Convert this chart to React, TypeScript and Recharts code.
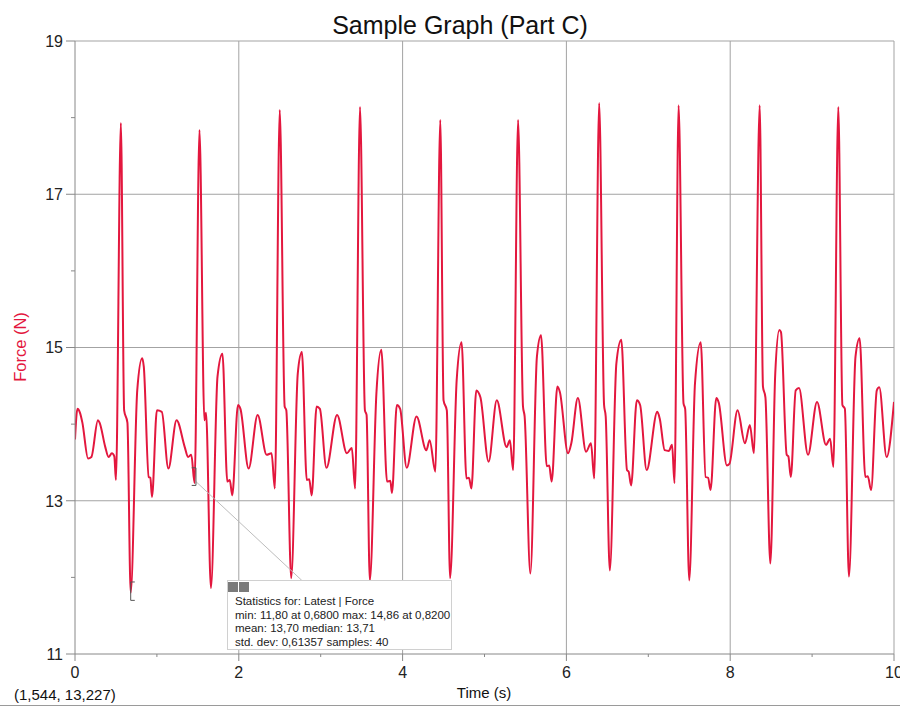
import React from 'react';
import { LineChart, Line, XAxis, YAxis, ReferenceLine } from 'recharts';

const times = [
  0.0, 0.03, 0.06, 0.09, 0.16, 0.2, 0.28, 0.3, 0.37, 0.41, 0.45, 0.48, 0.5, 0.56, 0.6, 0.64, 0.68, 0.76, 0.82, 0.84,
  0.9, 0.92, 0.94, 1.0, 1.06, 1.14, 1.24, 1.34, 1.38, 1.42, 1.46, 1.52, 1.58, 1.6, 1.66, 1.74, 1.8, 1.86, 1.89, 1.92,
  1.99, 2.02, 2.12, 2.23, 2.34, 2.4, 2.44, 2.5, 2.56, 2.58, 2.64, 2.72, 2.77, 2.83, 2.86, 2.89, 2.95, 2.99, 3.07, 3.2,
  3.32, 3.38, 3.42, 3.48, 3.54, 3.56, 3.6, 3.68, 3.74, 3.81, 3.85, 3.87, 3.93, 3.97, 4.05, 4.17, 4.29, 4.33, 4.4, 4.46,
  4.5, 4.54, 4.58, 4.66, 4.72, 4.78, 4.81, 4.84, 4.9, 4.95, 5.05, 5.15, 5.27, 5.31, 5.35, 5.41, 5.47, 5.49, 5.56, 5.64,
  5.69, 5.76, 5.79, 5.82, 5.89, 5.92, 6.02, 6.06, 6.14, 6.24, 6.3, 6.34, 6.4, 6.46, 6.48, 6.53, 6.61, 6.67, 6.74, 6.76,
  6.79, 6.86, 6.9, 6.98, 7.11, 7.14, 7.2, 7.25, 7.29, 7.32, 7.37, 7.43, 7.45, 7.5, 7.57, 7.64, 7.7, 7.73, 7.76, 7.83,
  7.86, 7.96, 7.99, 8.09, 8.18, 8.24, 8.29, 8.36, 8.4, 8.43, 8.49, 8.55, 8.6, 8.62, 8.69, 8.71, 8.74, 8.8, 8.84, 8.95,
  9.06, 9.17, 9.22, 9.26, 9.32, 9.37, 9.4, 9.45, 9.53, 9.58, 9.65, 9.68, 9.72, 9.79, 9.82, 9.91, 10.0,
];

const forces = [
  13.8, 14.2, 14.15, 14.02, 13.55, 13.57, 14.05, 14.02, 13.7, 13.57, 13.62, 13.58, 13.27, 17.93, 14.18, 14.02, 11.8, 14.44, 14.86, 14.75,
  13.31, 13.3, 13.05, 14.18, 14.16, 13.42, 14.05, 13.7, 13.57, 13.6, 13.23, 17.84, 14.05, 14.15, 11.86, 14.62, 14.92, 13.25, 13.27, 13.07,
  14.25, 14.2, 13.42, 14.12, 13.6, 13.62, 13.16, 18.1, 14.23, 14.18, 11.99, 14.66, 14.94, 13.27, 13.28, 13.07, 14.23, 14.2, 13.43, 14.12,
  13.62, 13.69, 13.16, 18.14, 14.18, 14.12, 11.96, 14.4, 14.97, 13.25, 13.26, 13.1, 14.25, 14.2, 13.43, 14.1, 13.66, 13.79, 13.38, 17.97,
  14.31, 14.18, 11.99, 14.57, 15.07, 13.29, 13.3, 13.16, 14.44, 14.35, 13.51, 14.31, 13.7, 13.79, 13.4, 17.97, 14.23, 14.1, 12.05, 14.88,
  15.16, 13.45, 13.46, 13.25, 14.49, 14.42, 13.62, 13.75, 14.34, 13.64, 13.75, 13.29, 18.19, 14.25, 14.1, 12.09, 14.79, 15.1, 13.4, 13.38,
  13.2, 14.31, 14.25, 13.4, 14.16, 14.07, 13.66, 13.65, 13.73, 13.23, 18.16, 14.27, 14.2, 11.96, 14.53, 15.07, 13.31, 13.3, 13.14, 14.34,
  14.28, 13.46, 13.48, 14.18, 13.75, 13.99, 13.62, 18.16, 14.49, 14.35, 12.18, 14.66, 15.23, 15.2, 13.6, 13.58, 13.31, 14.44, 14.47, 13.6,
  14.29, 13.73, 13.81, 13.44, 18.14, 14.25, 14.2, 12.01, 14.88, 15.12, 13.31, 13.32, 13.14, 14.44, 14.48, 13.57, 14.29,
];

const xTicks = [0, 1, 2, 3, 4, 5, 6, 7, 8, 9, 10];
const yTicks = [11, 12, 13, 14, 15, 16, 17, 18, 19];
const xGrid = [2, 4, 6, 8, 10];
const yGrid = [13, 15, 17, 19];

const statsLines = [
  'Statistics for: Latest | Force',
  'min: 11,80 at 0,6800 max: 14,86 at 0,8200',
  'mean: 13,70 median: 13,71',
  'std. dev: 0,61357 samples: 40',
];

// selection bracket and leader line (data coords)
const leftBracket = { t: 0.68, t2: 0.73, top: 11.94, bottom: 11.7 };
const rightBracket = { t: 1.477, t2: 1.425, top: 13.43, bottom: 13.2 };
const leader = [{ x: 1.477, y: 13.25 }, { x: 2.77, y: 11.96 }];

const data = times.map((t, i) => ({ t, f: forces[i] }));

const FONT = '"Liberation Sans", Arial, Helvetica, sans-serif';
const LINE_COLOR = '#e3173e';

const XTick = (props: any) => {
  const { x, y, payload } = props;
  const v = payload.value;
  const major = v % 2 === 0;
  return (
    <g>
      <line x1={x} x2={x} y1={y} y2={y + (major ? 7 : 3)} stroke="#888" strokeWidth={1} />
      {major && (
        <text x={x} y={y + 24} textAnchor="middle" fontSize={16} fill="#222" fontFamily={FONT}>
          {v}
        </text>
      )}
    </g>
  );
};

const YTick = (props: any) => {
  const { x, y, payload } = props;
  const v = payload.value;
  const major = v % 2 === 1;
  return (
    <g>
      <line x1={x - (major ? 9 : 4)} x2={x} y1={y} y2={y} stroke="#888" strokeWidth={1} />
      {major && (
        <text x={x - 12} y={y} dy="0.36em" textAnchor="end" fontSize={16} fill="#222" fontFamily={FONT}>
          {v}
        </text>
      )}
    </g>
  );
};

export default function App() {
  return (
    <div
      style={{
        position: 'absolute',
        left: 0,
        top: 0,
        width: 900,
        height: 707,
        overflow: 'hidden',
        background: '#fff',
        fontFamily: FONT,
      }}
    >
      <LineChart width={900} height={707} data={data} margin={{ top: 41, right: 6, bottom: 23, left: 15 }}>
        {xGrid.map((g) => (
          <ReferenceLine key={'xg' + g} x={g} stroke="#a3a3a3" strokeWidth={1} />
        ))}
        {yGrid.map((g) => (
          <ReferenceLine key={'yg' + g} y={g} stroke="#a3a3a3" strokeWidth={1} />
        ))}
        <XAxis
          dataKey="t"
          type="number"
          domain={[0, 10]}
          ticks={xTicks}
          interval={0}
          tickSize={0}
          tickMargin={0}
          tickLine={false}
          tick={<XTick />}
          axisLine={{ stroke: '#888' }}
          height={30}
          allowDataOverflow
        />
        <YAxis
          type="number"
          domain={[11, 19]}
          ticks={yTicks}
          interval={0}
          tickSize={0}
          tickMargin={0}
          tickLine={false}
          tick={<YTick />}
          axisLine={{ stroke: '#888' }}
          width={60}
          allowDataOverflow
        />
        <Line
          type="monotone"
          dataKey="f"
          stroke={LINE_COLOR}
          strokeWidth={2}
          dot={false}
          activeDot={false}
          isAnimationActive={false}
        />
        <ReferenceLine segment={leader} stroke="#bdbdbd" strokeWidth={1} />
        <ReferenceLine
          segment={[{ x: leftBracket.t, y: leftBracket.top }, { x: leftBracket.t, y: leftBracket.bottom }]}
          stroke="#555"
        />
        <ReferenceLine
          segment={[{ x: leftBracket.t, y: leftBracket.top }, { x: leftBracket.t2, y: leftBracket.top }]}
          stroke="#555"
        />
        <ReferenceLine
          segment={[{ x: leftBracket.t, y: leftBracket.bottom }, { x: leftBracket.t2, y: leftBracket.bottom }]}
          stroke="#555"
        />
        <ReferenceLine
          segment={[{ x: rightBracket.t, y: rightBracket.top }, { x: rightBracket.t, y: rightBracket.bottom }]}
          stroke="#555"
        />
        <ReferenceLine
          segment={[{ x: rightBracket.t, y: rightBracket.top }, { x: rightBracket.t2, y: rightBracket.top }]}
          stroke="#555"
        />
        <ReferenceLine
          segment={[{ x: rightBracket.t, y: rightBracket.bottom }, { x: rightBracket.t2, y: rightBracket.bottom }]}
          stroke="#555"
        />
      </LineChart>

      {/* Title */}
      <div
        style={{
          position: 'absolute',
          left: 0,
          width: 920,
          top: 10,
          textAlign: 'center',
          fontSize: 25,
          color: '#111',
          lineHeight: '30px',
        }}
      >
        Sample Graph (Part C)
      </div>

      {/* Y axis label */}
      <div
        style={{
          position: 'absolute',
          left: 20,
          top: 347,
          transform: 'translate(-50%, -50%) rotate(-90deg)',
          fontSize: 16.5,
          color: LINE_COLOR,
          whiteSpace: 'nowrap',
          lineHeight: '18px',
        }}
      >
        Force (N)
      </div>

      {/* X axis label */}
      <div
        style={{
          position: 'absolute',
          left: 484,
          top: 692,
          transform: 'translate(-50%, -50%)',
          fontSize: 15,
          color: '#111',
          whiteSpace: 'nowrap',
        }}
      >
        Time (s)
      </div>

      {/* Cursor coordinates */}
      <div
        style={{
          position: 'absolute',
          left: 14,
          top: 694,
          transform: 'translateY(-50%)',
          fontSize: 15,
          color: '#111',
          whiteSpace: 'nowrap',
        }}
      >
        (1,544, 13,227)
      </div>

      {/* bottom separator */}
      <div style={{ position: 'absolute', left: 0, top: 705, width: 900, height: 1, background: '#9a9a9a' }} />

      {/* Statistics box */}
      <div
        style={{
          position: 'absolute',
          left: 227,
          top: 580,
          width: 225,
          height: 70,
          background: '#fff',
          border: '1px solid #d0d0d0',
          boxSizing: 'border-box',
        }}
      >
        <div style={{ position: 'absolute', left: 0, top: 1, width: 10, height: 10, background: '#7a7a7a' }} />
        <div style={{ position: 'absolute', left: 11, top: 1, width: 10, height: 10, background: '#7a7a7a' }} />
        <div
          style={{
            position: 'absolute',
            left: 7,
            top: 14,
            fontSize: 11.5,
            lineHeight: '13.5px',
            color: '#222',
            whiteSpace: 'nowrap',
          }}
        >
          {statsLines.map((l, i) => (
            <div key={i}>{l}</div>
          ))}
        </div>
      </div>
    </div>
  );
}
